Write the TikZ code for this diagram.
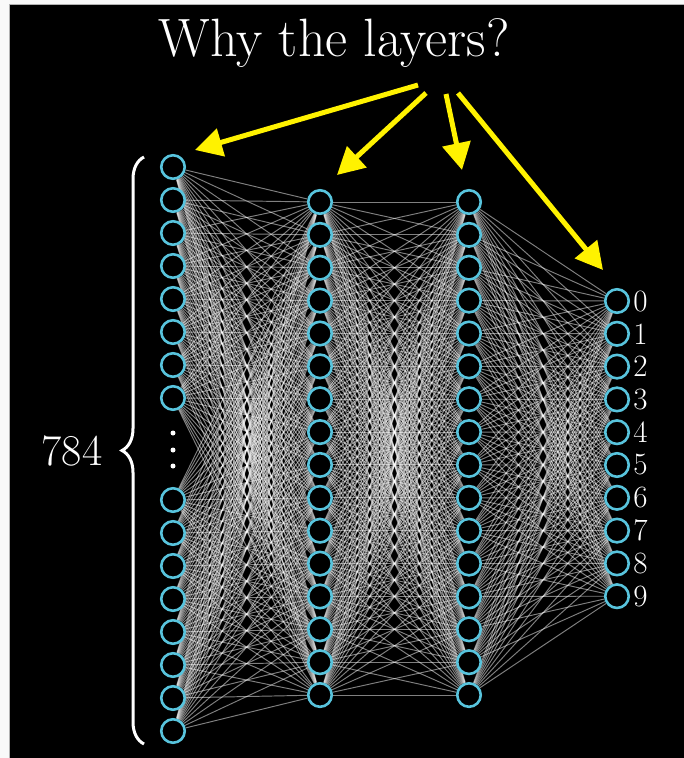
\documentclass[tikz,border=0pt]{standalone}
\usetikzlibrary{arrows.meta,decorations.pathreplacing}
\definecolor{nnblue}{HTML}{58C4DD}
\definecolor{ayellow}{HTML}{FFF200}
\pgfdeclarelayer{bg}
\pgfdeclarelayer{edges}
\pgfsetlayers{bg,edges,main}
\begin{document}
\begin{tikzpicture}[x=1pt,y=-1pt,
  neuron/.style={circle,draw=nnblue,line width=2.6pt,fill=black,minimum size=23.5pt,inner sep=0pt},
  edge/.style={white,opacity=0.5,line width=0.95pt},
  yarrow/.style={ayellow,line width=5pt,-{Triangle[length=27pt,width=28pt]}},
  vdot/.style={circle,fill=white,minimum size=5pt,inner sep=0pt},
  digit/.style={text=white,font=\fontsize{31}{33}\selectfont,anchor=west,inner sep=0pt}]
\useasboundingbox (0,0) rectangle (684,758);
\begin{pgfonlayer}{bg}
  \fill[white!95!gray] (0,0) rectangle (684,758);
  \fill[black] (9,4) rectangle (684,758);
  \draw[gray!60,line width=1pt] (9,4) -- (9,758);
  \draw[gray!60,line width=1pt] (9,4) -- (684,4);
\end{pgfonlayer}
% layer 1
\foreach \i in {1,...,8} \node[neuron] (a\i) at (173,{167+33*(\i-1)}) {};
\foreach \i in {9,...,16} \node[neuron] (a\i) at (173,{500+33*(\i-9)}) {};
% layer 2 and 3
\foreach \i in {1,...,16} {
  \node[neuron] (b\i) at (320,{202+32.87*(\i-1)}) {};
  \node[neuron] (c\i) at (469,{202+32.87*(\i-1)}) {};
}
% output layer
\foreach \i in {0,...,9} {
  \node[neuron] (d\i) at (617,{301+32.8*\i}) {};
  \node[digit] (l\i) at ([xshift=3pt]d\i.east) {\i};
}
% connections
\begin{pgfonlayer}{edges}
\foreach \i in {1,...,16} {
  \foreach \j in {1,...,16} {
    \draw[edge] (a\i) -- (b\j);
    \draw[edge] (b\i) -- (c\j);
  }
  \foreach \j in {0,...,9} \draw[edge] (c\i) -- (d\j);
}
\end{pgfonlayer}
% dots
\node[vdot] (v1) at (173,433) {};
\node[vdot] (v2) at (173,450) {};
\node[vdot] (v3) at (173,466) {};
% brace and count
\coordinate (brb) at (144,744);
\coordinate (brt) at (144,157);
\draw[white,line width=3pt,decorate,decoration={brace,amplitude=22pt}] (brb) -- (brt);
\node[text=white,font=\fontsize{44}{48}\selectfont] (n784) at (72,451) {784};
% title and arrows
\node[text=white,font=\fontsize{54}{58}\selectfont] (title) at (334,43) {Why the layers?};
\coordinate (s1) at (418,85);
\coordinate (s2) at (426,93);
\coordinate (s3) at (446,94);
\coordinate (s4) at (458,93);
\coordinate (t1) at (195,150);
\coordinate (t2) at (337,175);
\coordinate (t3) at (462,170);
\coordinate (t4) at (603,270);
\draw[yarrow] (s1) -- (t1);
\draw[yarrow] (s2) -- (t2);
\draw[yarrow] (s3) -- (t3);
\draw[yarrow] (s4) -- (t4);
\end{tikzpicture}
\end{document}
